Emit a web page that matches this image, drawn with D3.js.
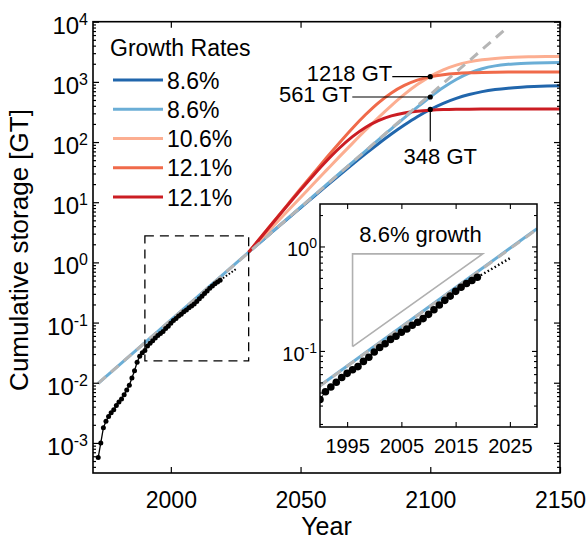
<!DOCTYPE html>
<html>
<head>
<meta charset="utf-8">
<script src="https://cdn.jsdelivr.net/npm/d3@7"></script>
<style>
body { margin: 0; background: #fff; }
svg text { font-family: "Liberation Sans", Arial, Helvetica, sans-serif; fill: #000; }
</style>
</head>
<body>
<svg id="chart" width="587" height="542"></svg>
<script>
// historical cumulative storage (GT), one dot per year
const histYears = [1972,1973,1974,1975,1976,1977,1978,1979,1980,1981,1982,1983,1984,1985,1986,1987,1988,1989,
  1990,1991,1992,1993,1994,1995,1996,1997,1998,1999,2000,2001,2002,2003,2004,2005,2006,2007,2008,2009,
  2010,2011,2012,2013,2014,2015,2016,2017,2018,2019]
const histValues = [0.00057,0.0010,0.00178,0.00229,0.00275,0.00316,0.00355,0.00417,0.00479,0.00537,0.00631,0.00759,0.00912,0.0120,0.0158,0.0219,0.0275,0.0316,
  0.0343,0.0407,0.0452,0.0501,0.0556,0.0610,0.0661,0.0708,0.0794,0.0871,0.0977,0.108,0.117,0.129,0.138,0.151,0.162,0.176,0.188,0.204,
  0.224,0.248,0.275,0.305,0.335,0.372,0.407,0.442,0.473,0.507]

// short dotted projection of current projects
const nearYears = [2019, 2025]
const nearValues = [0.507, 0.77]

// 8.6% trend line (grey dashed) and the light blue base line before 2030
const trendYears = [1972, 2130]
const trendValues = [0.0098, 8200]
const baseYears = [1972, 2030]
const baseValues = [0.0098, 1.48]

// projections from 2030
const projYears = [2030,2035,2040,2045,2050,2055,2060,2065,2070,2075,2080,2085,2090,2095,2100,2105,2110,2115,2120,2125,2130,2135,2140,2145,2150]
const darkBlue = [1.48,2.26,3.46,5.29,8.07,12.3,18.7,28.3,42.6,63.6,93.8,136,192,264,348,441,533,618,689,745,787,817,838,852,862]
const lightBlue = [1.48,2.28,3.50,5.38,8.27,12.7,19.6,30.0,46.1,70.8,109,166,253,380,562,805,1096,1397,1656,1843,1960,2026,2062,2081,2090]
const lightSalmon = [1.48,2.50,4.23,7.14,12.0,20.3,34.1,57.2,95.2,157,255,404,619,901,1235,1581,1895,2147,2331,2455,2535,2584,2615,2633,2644]
const salmon = [1.48,2.72,4.98,9.13,16.7,30.3,54.8,97.5,170,284,449,656,875,1071,1219,1318,1379,1415,1435,1446,1453,1456,1458,1459,1459]
const red = [1.48,2.70,4.91,8.90,16.0,28.2,48.4,79.6,123,175,227,272,304,325,338,346,350,352,353,354,354.5,354.7,355,355,355]

const seriesNames = ['8.6%', '8.6%', '10.6%', '12.1%', '12.1%']
const seriesColors = ['#2166ac', '#6baed6', '#fcae91', '#f06a4a', '#cb1d23']
const seriesValues = [darkBlue, lightBlue, lightSalmon, salmon, red]

// annotations at 2100
const annYears = [2100, 2100, 2100]
const annValues = [1218, 561, 348]
const annLabels = ['1218 GT', '561 GT', '348 GT']

// zoom box and growth triangle
const boxYears = [1990, 2030]
const boxValues = [0.023, 2.75]
const triYears = [1996, 1996, 2020, 1996]
const triValues = [0.11, 0.85, 0.85, 0.11]

const xTicks = [2000, 2050, 2100, 2150]
const yTicks = [1e-3, 1e-2, 1e-1, 1, 10, 100, 1000, 10000]
const yExp = ['-3', '-2', '-1', '0', '1', '2', '3', '4']
const insetXTicks = [1995, 2005, 2015, 2025]
const insetYTicks = [0.1, 1]
const insetYExp = ['-1', '0']

const zip = (a, b) => a.map((v, i) => [v, b[i]])

const svg = d3.select('#chart')

const pL = 93, pR = 560, pT = 21.7, pB = 473
const x = d3.scaleLinear().domain([1970, 2150]).range([pL, pR])
const y = d3.scaleLog().domain([Math.pow(10, -3.5), 1e4]).range([pB, pT])

const minorTicks = (dom) => {
    let out = []
    for (let k = -5; k <= 4; k++)
        for (let m = 2; m <= 9; m++) {
            let v = m * Math.pow(10, k)
            if (v > dom[0] && v < dom[1]) out.push(v)
        }
    return out
}

const defs = svg.append('defs')
defs.append('clipPath').attr('id', 'mainclip')
    .append('rect').attr('x', pL).attr('y', pT).attr('width', pR - pL).attr('height', pB - pT)

const plot = svg.append('g').attr('clip-path', 'url(#mainclip)')

const line = d3.line().x(d => x(d[0])).y(d => y(d[1])).curve(d3.curveMonotoneX)

// light blue base line before projections
plot.append('path').datum(zip(baseYears, baseValues))
    .attr('d', line).attr('fill', 'none').attr('stroke', seriesColors[1]).attr('stroke-width', 3)

// projection curves
seriesValues.forEach((vals, i) => {
    plot.append('path').datum(zip(projYears, vals))
        .attr('d', line).attr('fill', 'none')
        .attr('stroke', seriesColors[i]).attr('stroke-width', 3)
})

// grey dashed trend
plot.append('path').datum(zip(trendYears, trendValues))
    .attr('d', line).attr('fill', 'none').attr('stroke', '#b5b5b5')
    .attr('stroke-width', 3).attr('stroke-dasharray', '10,7')

// historical data
const hist = zip(histYears, histValues)
plot.append('path').datum(hist).attr('d', d3.line().x(d => x(d[0])).y(d => y(d[1])))
    .attr('fill', 'none').attr('stroke', '#000').attr('stroke-width', 1.3)
plot.selectAll('circle.hist').data(hist).enter().append('circle')
    .attr('class', 'hist').attr('cx', d => x(d[0])).attr('cy', d => y(d[1])).attr('r', 2.5).attr('fill', '#000')
plot.append('path').datum(zip(nearYears, nearValues))
    .attr('d', d3.line().x(d => x(d[0])).y(d => y(d[1])))
    .attr('fill', 'none').attr('stroke', '#000').attr('stroke-width', 2).attr('stroke-dasharray', '1.5,2')

// dashed zoom box
svg.append('rect')
    .attr('x', x(boxYears[0])).attr('y', y(boxValues[1]))
    .attr('width', x(boxYears[1]) - x(boxYears[0])).attr('height', y(boxValues[0]) - y(boxValues[1]))
    .attr('fill', 'none').attr('stroke', '#000').attr('stroke-width', 1.3).attr('stroke-dasharray', '9,6')

// annotations
const ann = svg.append('g')
annYears.forEach((yr, i) => {
    const px = x(yr), py = y(annValues[i])
    if (i < 2) {
        const len = i === 0 ? 38 : 78
        ann.append('line').attr('x1', px - len).attr('x2', px).attr('y1', py).attr('y2', py)
            .attr('stroke', '#000').attr('stroke-width', 1.2)
        ann.append('text').attr('x', px - len).attr('y', py + (i === 0 ? 4 : 5.5))
            .attr('text-anchor', 'end').style('font-size', '22px').text(annLabels[i])
    } else {
        ann.append('line').attr('x1', px).attr('x2', px).attr('y1', py).attr('y2', py + 32)
            .attr('stroke', '#000').attr('stroke-width', 1.2)
        ann.append('text').attr('x', px + 10).attr('y', py + 55)
            .attr('text-anchor', 'middle').style('font-size', '22px').text(annLabels[i])
    }
    ann.append('circle').attr('cx', px).attr('cy', py).attr('r', 2.6).attr('fill', '#000')
})

// axes
const axes = svg.append('g')
axes.append('g').attr('transform', `translate(0,${pB})`)
    .call(d3.axisBottom(x).tickValues(xTicks).tickSizeInner(-6).tickSizeOuter(0).tickPadding(18.5).tickFormat(d3.format('d')))
axes.append('g').attr('transform', `translate(0,${pT})`)
    .call(d3.axisTop(x).tickValues(xTicks).tickSizeInner(-6).tickSizeOuter(0).tickFormat(''))
axes.append('g').attr('transform', `translate(${pL},0)`)
    .call(d3.axisLeft(y).tickValues(yTicks).tickSizeInner(-6).tickSizeOuter(0).tickFormat(''))
axes.append('g').attr('transform', `translate(${pL},0)`)
    .call(d3.axisLeft(y).tickValues(minorTicks(y.domain())).tickSizeInner(-3).tickSizeOuter(0).tickFormat(''))
axes.append('g').attr('transform', `translate(${pR},0)`)
    .call(d3.axisRight(y).tickValues(yTicks).tickSizeInner(-6).tickSizeOuter(0).tickFormat(''))
axes.append('g').attr('transform', `translate(${pR},0)`)
    .call(d3.axisRight(y).tickValues(minorTicks(y.domain())).tickSizeInner(-3).tickSizeOuter(0).tickFormat(''))
axes.selectAll('.domain').remove()
axes.selectAll('.tick line').attr('stroke', '#000').attr('stroke-width', 1.2)
axes.selectAll('.tick text').style('font-size', '23px').attr('fill', '#000')

yTicks.forEach((v, i) => {
    const t = svg.append('text').attr('x', pL - 5).attr('y', y(v) + 12).attr('text-anchor', 'end')
    t.append('tspan').style('font-size', '24px').text('10')
    t.append('tspan').style('font-size', '16px').attr('dy', -9).text(yExp[i])
})

svg.append('rect').attr('x', pL).attr('y', pT).attr('width', pR - pL).attr('height', pB - pT)
    .attr('fill', 'none').attr('stroke', '#000').attr('stroke-width', 1.6)

svg.append('text').attr('transform', `translate(28,250) rotate(-90)`)
    .attr('text-anchor', 'middle').style('font-size', '26px').text('Cumulative storage [GT]')
svg.append('text').attr('x', (pL + pR) / 2).attr('y', 535)
    .attr('text-anchor', 'middle').style('font-size', '25px').text('Year')

// legend
const legend = svg.append('g')
legend.append('text').attr('x', 110).attr('y', 56).style('font-size', '23px').text('Growth Rates')
seriesNames.forEach((name, i) => {
    const ly = 80 + i * 29.25
    legend.append('line').attr('x1', 113).attr('x2', 163).attr('y1', ly).attr('y2', ly)
        .attr('stroke', seriesColors[i]).attr('stroke-width', 3)
    legend.append('text').attr('x', 167).attr('y', ly + 8.5).style('font-size', '23px').text(name)
})

// inset
const iL = 320, iR = 537, iT = 204, iB = 427
const ix = d3.scaleLinear().domain([1990, 2030]).range([iL, iR])
const iy = d3.scaleLog().domain([0.0187, 2.55]).range([iB, iT])
const iline = d3.line().x(d => ix(d[0])).y(d => iy(d[1]))

svg.append('rect').attr('x', iL).attr('y', iT).attr('width', iR - iL).attr('height', iB - iT).attr('fill', '#fff')
defs.append('clipPath').attr('id', 'insetclip')
    .append('rect').attr('x', iL).attr('y', iT).attr('width', iR - iL).attr('height', iB - iT)
const inset = svg.append('g').attr('clip-path', 'url(#insetclip)')

inset.append('path').datum(zip(baseYears, baseValues)).attr('d', iline)
    .attr('fill', 'none').attr('stroke', seriesColors[1]).attr('stroke-width', 3)
inset.append('path').datum(zip(trendYears, trendValues)).attr('d', iline)
    .attr('fill', 'none').attr('stroke', '#b5b5b5').attr('stroke-width', 3).attr('stroke-dasharray', '10,7')
inset.append('path').datum(zip(triYears, triValues)).attr('d', iline)
    .attr('fill', 'none').attr('stroke', '#b0b0b0').attr('stroke-width', 1.6)
inset.append('path').datum(zip(nearYears, nearValues)).attr('d', iline)
    .attr('fill', 'none').attr('stroke', '#000').attr('stroke-width', 2.5).attr('stroke-dasharray', '1.5,2.5')
inset.append('path').datum(hist).attr('d', iline)
    .attr('fill', 'none').attr('stroke', '#000').attr('stroke-width', 1)
inset.selectAll('circle').data(hist).enter().append('circle')
    .attr('cx', d => ix(d[0])).attr('cy', d => iy(d[1])).attr('r', 3.8).attr('fill', '#000')

svg.append('text').attr('x', 420.5).attr('y', 241.5).attr('text-anchor', 'middle')
    .style('font-size', '22px').text('8.6% growth')

const iaxes = svg.append('g')
iaxes.append('g').attr('transform', `translate(0,${iB})`)
    .call(d3.axisBottom(ix).tickValues(insetXTicks).tickSizeInner(-5).tickSizeOuter(0).tickPadding(12).tickFormat(d3.format('d')))
iaxes.append('g').attr('transform', `translate(0,${iT})`)
    .call(d3.axisTop(ix).tickValues(insetXTicks).tickSizeInner(-5).tickSizeOuter(0).tickFormat(''))
iaxes.append('g').attr('transform', `translate(${iL},0)`)
    .call(d3.axisLeft(iy).tickValues(insetYTicks).tickSizeInner(-5).tickSizeOuter(0).tickFormat(''))
iaxes.append('g').attr('transform', `translate(${iL},0)`)
    .call(d3.axisLeft(iy).tickValues(minorTicks(iy.domain())).tickSizeInner(-3).tickSizeOuter(0).tickFormat(''))
iaxes.append('g').attr('transform', `translate(${iR},0)`)
    .call(d3.axisRight(iy).tickValues(insetYTicks).tickSizeInner(-5).tickSizeOuter(0).tickFormat(''))
iaxes.append('g').attr('transform', `translate(${iR},0)`)
    .call(d3.axisRight(iy).tickValues(minorTicks(iy.domain())).tickSizeInner(-3).tickSizeOuter(0).tickFormat(''))
iaxes.selectAll('.domain').remove()
iaxes.selectAll('.tick line').attr('stroke', '#000').attr('stroke-width', 1.1)
iaxes.selectAll('.tick text').style('font-size', '20px').attr('fill', '#000')

insetYTicks.forEach((v, i) => {
    const t = svg.append('text').attr('x', iL - 3).attr('y', iy(v) + 10).attr('text-anchor', 'end')
    t.append('tspan').style('font-size', '20px').text('10')
    t.append('tspan').style('font-size', '14px').attr('dy', -8).text(insetYExp[i])
})

svg.append('rect').attr('x', iL).attr('y', iT).attr('width', iR - iL).attr('height', iB - iT)
    .attr('fill', 'none').attr('stroke', '#000').attr('stroke-width', 1.5)
</script>
</body>
</html>
